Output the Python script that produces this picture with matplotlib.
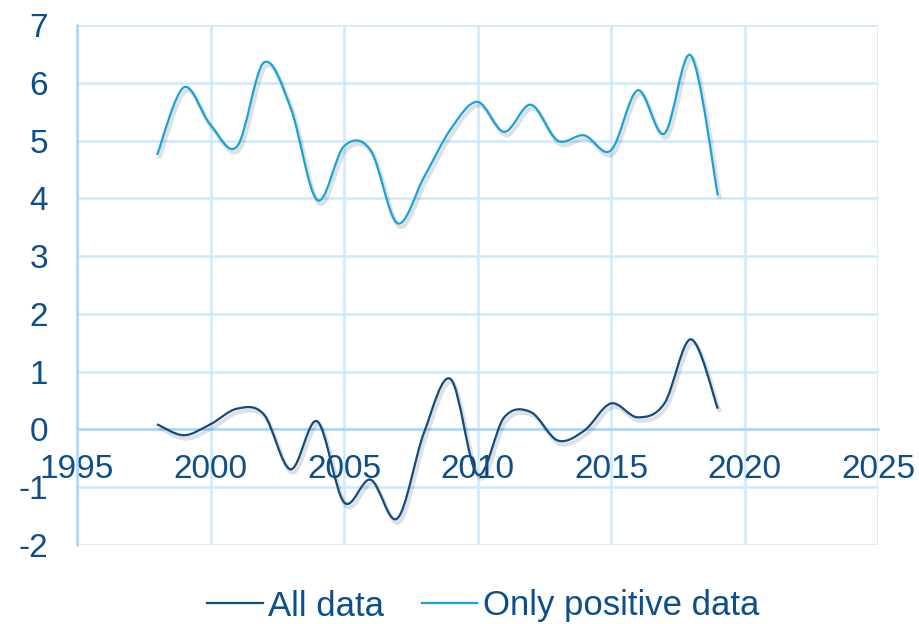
import numpy as np
import matplotlib
matplotlib.use("Agg")
import matplotlib.pyplot as plt
from matplotlib.path import Path
from matplotlib.patches import PathPatch
import matplotlib.patheffects as pe
from matplotlib.lines import Line2D

years = list(range(1998, 2020))
all_data = [0.09, -0.10, 0.09, 0.36, 0.26, -0.69, 0.14, -1.26, -0.87, -1.54, -0.05,
            0.87, -0.78, 0.21, 0.30, -0.19, -0.02, 0.45, 0.21, 0.45, 1.56, 0.36]
positive_data = [4.75, 5.92, 5.27, 4.90, 6.35, 5.57, 3.97, 4.90, 4.83, 3.57, 4.37,
                 5.20, 5.67, 5.15, 5.62, 5.00, 5.09, 4.83, 5.87, 5.12, 6.47, 4.05]
series_names = ["All data", "Only positive data"]
series_colors = ["#0f4c81", "#17a2dc"]

text_color = "#0c4f8a"
grid_color = "#cde9fb"
axis_color = "#a6d8f7"

plt.rcParams['font.family'] = ['Liberation Sans', 'DejaVu Sans']
plt.rcParams['axes.unicode_minus'] = False


def smooth_path(xs, ys):
    # Excel-like smoothed line: cubic Bezier through every point
    pts = np.column_stack([xs, ys]).astype(float)
    n = len(pts)
    verts = [pts[0]]
    codes = [Path.MOVETO]
    for i in range(n - 1):
        p0 = pts[i - 1] if i > 0 else pts[i]
        p1 = pts[i]
        p2 = pts[i + 1]
        p3 = pts[i + 2] if i + 2 < n else pts[i + 1]
        c1 = p1 + (p2 - p0) / 6.0
        c2 = p2 - (p3 - p1) / 6.0
        verts += [c1, c2, p2]
        codes += [Path.CURVE4] * 3
    return Path(verts, codes)


fig = plt.figure(figsize=(9.2, 6.24), dpi=100)
ax = fig.add_axes([77 / 920, 1 - 545 / 624, (878 - 77) / 920, (545 - 25) / 624])

for vals, name, col in zip([all_data, positive_data], series_names, series_colors):
    patch = PathPatch(smooth_path(years, vals), fill=False, edgecolor=col,
                      lw=1.6, capstyle="butt", zorder=3)
    patch.set_path_effects([pe.SimpleLineShadow(offset=(1.5, -2.5), shadow_color="#000000",
                                                alpha=0.12, linewidth=3), pe.Normal()])
    ax.add_patch(patch)

ax.set_xlim(1995, 2025)
ax.set_ylim(-2, 7)
ax.set_xticks(range(1995, 2026, 5))
ax.set_yticks(range(-2, 8))

ax.grid(True, color=grid_color, lw=1.8)
ax.set_axisbelow(True)

for s in ["top", "right"]:
    ax.spines[s].set_visible(False)
ax.spines["bottom"].set_position(("data", 0))
ax.spines["bottom"].set_color(axis_color)
ax.spines["bottom"].set_linewidth(1.8)
ax.spines["left"].set_color(axis_color)
ax.spines["left"].set_linewidth(1.8)

ax.tick_params(axis="x", length=0, pad=18, labelsize=24, labelcolor=text_color)
ax.tick_params(axis="y", length=0, pad=21, labelsize=24, labelcolor=text_color)

handles = [Line2D([], [], color=c, lw=1.6) for c in series_colors]
leg = fig.legend(handles, series_names, loc="center", bbox_to_anchor=(0.525, 1 - 606 / 624),
                 ncol=2, frameon=False, fontsize=25, handlelength=1.6, handletextpad=0.15,
                 columnspacing=1.1, labelcolor=text_color)

fig.savefig("out.png", dpi=100)
